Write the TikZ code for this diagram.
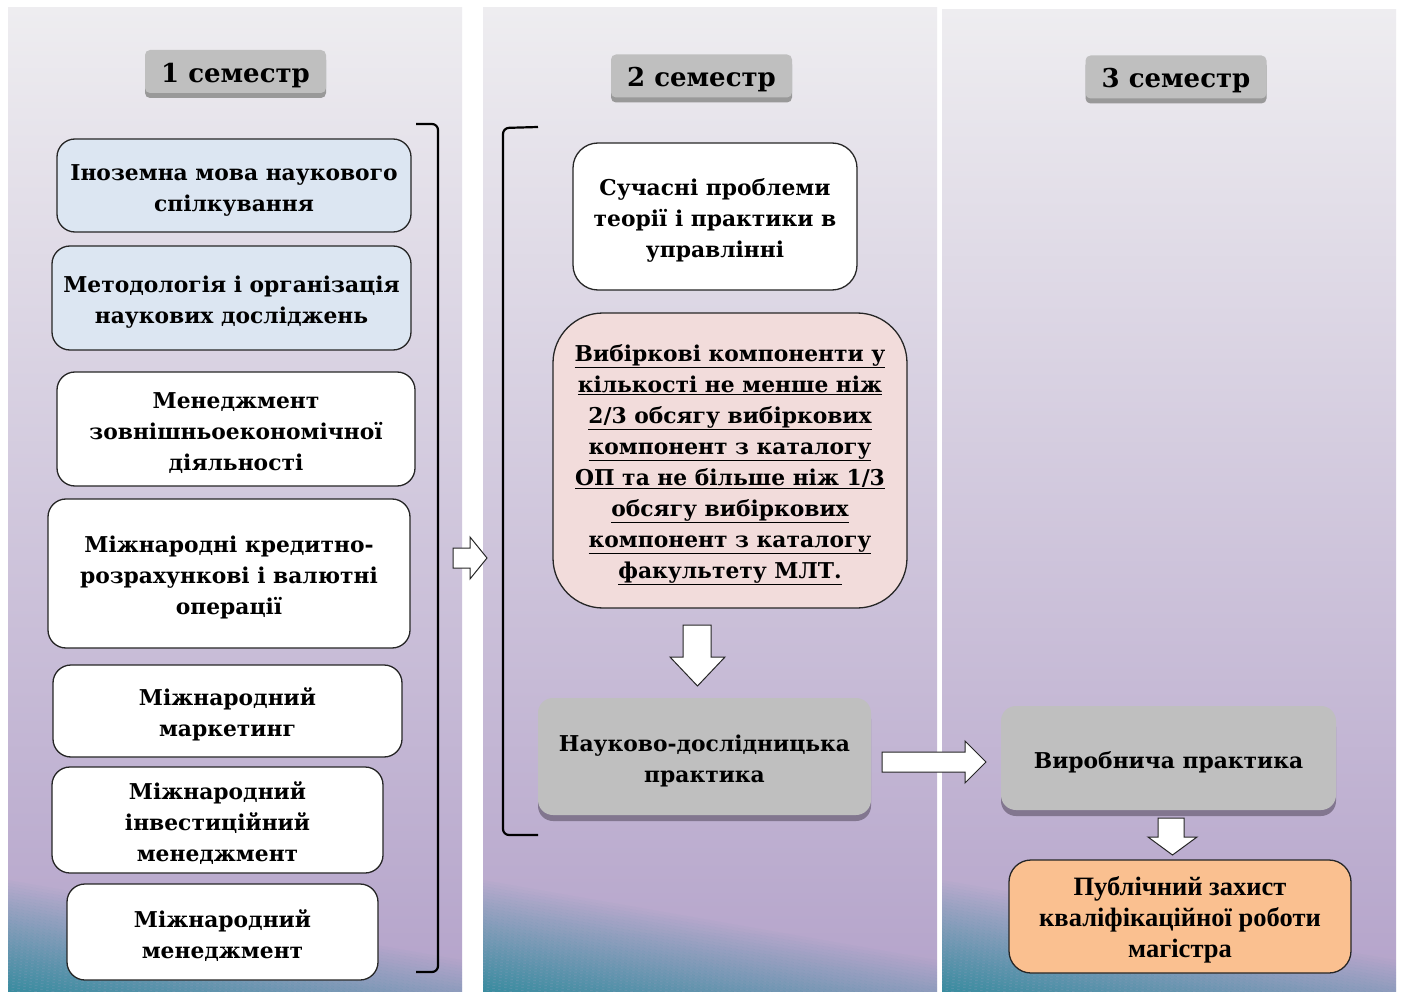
\documentclass[tikz,border=0pt]{standalone}
\usepackage{fontspec}
\setmainfont{DejaVu Serif}
\newfontfamily\timesfont{Liberation Serif}
\usetikzlibrary{shadows}
\newcommand\st{\rule{0pt}{25pt}}
\definecolor{ptop}{HTML}{EEEDF0}
\definecolor{pmid}{HTML}{D0C7DB}
\definecolor{pbot}{HTML}{B4A3CA}
\definecolor{tealc}{HTML}{2C8A9B}
\definecolor{blueb}{HTML}{DCE6F2}
\definecolor{pinkb}{HTML}{F2DCDB}
\definecolor{grayb}{HTML}{BFBFBF}
\definecolor{grays}{HTML}{82768F}
\definecolor{hdrs}{HTML}{999999}
\definecolor{orangeb}{HTML}{FAC090}
\begin{document}
\begin{tikzpicture}[x=1pt,y=-1pt,
  box/.style={draw=black!85, line width=1.3pt, rounded corners=18pt, align=center,
    font=\bfseries\fontsize{21.8}{31}\selectfont, inner sep=0pt, fill=white},
  graybox/.style={box, draw=none, fill=grayb, rounded corners=15pt,
    drop shadow={shadow xshift=0pt, shadow yshift=-6pt, fill=grays, opacity=1}},
  hdr/.style={fill=grayb, rounded corners=5pt, inner sep=0pt, minimum width=181pt,
    minimum height=43pt, font=\bfseries\fontsize{26}{30}\selectfont,
    execute at begin node={\rule{0pt}{27pt}},
    drop shadow={shadow xshift=0pt, shadow yshift=-5pt, fill=hdrs, opacity=1}},
  blockarrow/.style={fill=white, draw=black!85, line width=1pt},
  bracket/.style={draw=black, line width=2.2pt, rounded corners=6pt}]
\useasboundingbox (0,0) rectangle (1401,992);
\fill[white] (0,0) rectangle (1401,992);
% panels
\foreach \x/\y in {8/8,483/8,942/10} {
  \begin{scope}
    \clip (\x,\y) rectangle (\x+454,992);
    \shade[top color=ptop, middle color=pmid, bottom color=pbot] (\x,\y) rectangle (\x+454,992);
    \begin{scope}[rotate around={-10:(\x,880)}]
      \foreach \i in {0,...,37} {
        \pgfmathsetmacro{\op}{0.92*(\i+1)/38}
        \fill[tealc, opacity=\op] (\x-200,880+3*\i) rectangle (\x+700,883+3*\i);
      }
      \fill[tealc, opacity=0.92] (\x-200,994) rectangle (\x+700,1200);
    \end{scope}
  \end{scope}
}
% headers
\node[hdr] (h1) at (235.5,71.5) {1 семестр};
\node[hdr] (h2) at (701.5,76) {2 семестр};
\node[hdr] (h3) at (1176,77) {3 семестр};
% semester 1
\node[box, fill=blueb, minimum width=354pt, minimum height=93pt] (b1) at (234,185.5) {\st Іноземна мова наукового\\спілкування};
\node[box, fill=blueb, minimum width=359pt, minimum height=104pt] (b2) at (231.5,298) {\st Методологія і організація\\наукових досліджень};
\node[box, minimum width=358pt, minimum height=114pt] (b3) at (236,429) {\st Менеджмент\\зовнішньоекономічної\\діяльності};
\node[box, minimum width=362pt, minimum height=149pt] (b4) at (229,573.5) {\st Міжнародні кредитно-\\розрахункові і валютні\\операції};
\node[box, minimum width=349pt, minimum height=92pt] (b5) at (227.5,711) {\st Міжнародний\\маркетинг};
\node[box, minimum width=331pt, minimum height=106pt] (b6) at (217.5,820) {\st Міжнародний\\інвестиційний\\менеджмент};
\node[box, minimum width=311pt, minimum height=96pt] (b7) at (222.5,932) {\st Міжнародний\\менеджмент};
\draw[bracket] (416,124) -- (438,124) -- (438,972) -- (416,972);
% semester 2
\draw[bracket] (538,127) -- (503,128) -- (503,835) -- (538,835);
\node[box, rounded corners=25pt, minimum width=284pt, minimum height=147pt] (s1) at (715,216.5) {\st Сучасні проблеми\\теорії і практики в\\управлінні};
\node[box, fill=pinkb, rounded corners=50pt, minimum width=354pt, minimum height=295pt] (s2) at (730,460.5)
  {\st\underline{Вибіркові компоненти у}\\\underline{кількості не менше ніж}\\\underline{2/3 обсягу вибіркових}\\\underline{компонент з каталогу}\\\underline{ОП та не більше ніж 1/3}\\\underline{обсягу вибіркових}\\\underline{компонент з каталогу}\\\underline{факультету МЛТ.}};
\node[graybox, minimum width=333pt, minimum height=117pt] (s3) at (704.5,756.5) {\st Науково-дослідницька\\практика};
% semester 3
\node[graybox, minimum width=335pt, minimum height=104pt] (t1) at (1168.5,758) {\st Виробнича практика};
\node[box, fill=orangeb, rounded corners=22pt, minimum width=342pt, minimum height=113pt,
  font=\timesfont\bfseries\fontsize{26.5}{31}\selectfont] (t2) at (1180,916.5) {\st Публічний захист\\кваліфікаційної роботи\\магістра};
% block arrows
\draw[blockarrow] (453,548) -- (470,548) -- (470,537) -- (487,558) -- (470,579) -- (470,568) -- (453,568) -- cycle;
\draw[blockarrow] (683,625) -- (711,625) -- (711,657) -- (725,657) -- (697.5,686) -- (670,657) -- (683,657) -- cycle;
\draw[blockarrow] (882,752) -- (965,752) -- (965,741) -- (986,762) -- (965,783) -- (965,772) -- (882,772) -- cycle;
\draw[blockarrow] (1158,818) -- (1184,818) -- (1184,837) -- (1197,837) -- (1172.5,855) -- (1148,837) -- (1158,837) -- cycle;
\end{tikzpicture}
\end{document}
